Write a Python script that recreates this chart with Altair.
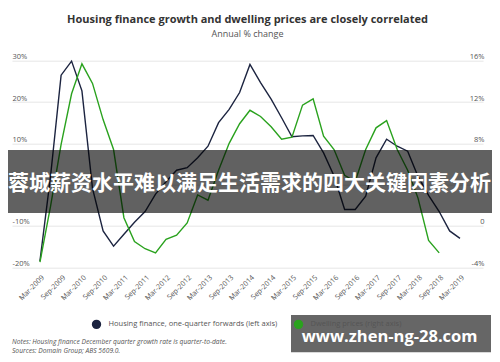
import altair as alt
import pandas as pd

# ---- data ----
quarters = [f"{y}-{m:02d}-15" for y in range(2009, 2020) for m in (3, 6, 9, 12)][:41]

housing_finance = [  # left axis, % (Mar-2009 .. Mar-2019)
    -18.5, 2.0, 26.5, 29.9, 22.7, -0.9, -11.2, -14.9, -12.0, -9.1,
    -6.5, -2.3, 0.7, 3.5, 4.1, 6.5, 9.3, 15.0, 18.2, 22.3,
    29.1, 24.7, 20.7, 16.2, 11.6, 11.8, 11.9, 7.7, 2.1, -6.0,
    -6.0, -2.8, 6.5, 11.0, 9.3, 8.1, 2.0, -2.6, -6.5, -11.2,
    -13.0,
]
dwelling_prices = [  # right axis, % (Mar-2009 .. Sep-2018)
    -3.5, 1.9, 7.9, 12.8, 15.7, 13.8, 10.3, 7.4, 0.8, -1.5,
    -2.2, -2.6, -1.3, -0.9, 0.3, 3.0, 2.5, 5.4, 8.0, 9.9,
    11.2, 10.6, 9.6, 8.4, 8.6, 11.7, 12.3, 8.7, 7.4, 4.9,
    4.3, 7.4, 9.5, 10.2, 7.4, 5.4, 2.7, -1.4, -2.6,
]
series_names = ["Housing finance, one-quarter forwards (left axis)", "Dwelling prices (right axis)"]
series_colors = ["#1c2440", "#2aa21e"]
left_ticks = [-20, -10, 0, 10, 20, 30]
right_ticks = [-4, 0, 4, 8, 12, 16]
tick_dates = [(y, m) for y in range(2009, 2020) for m in (3, 9)][:21]

title_text = "Housing finance growth and dwelling prices are closely correlated"
subtitle_text = "Annual % change"
notes = ["Notes: Housing finance December quarter growth rate is quarter-to-date.",
         "Sources: Domain Group; ABS 5609.0."]
banner_text = "蓉城薪资水平难以满足生活需求的四大关键因素分析"
watermark_text = "www.zhen-ng-28.com"

hf = pd.DataFrame({"date": quarters, "value": housing_finance, "series": series_names[0]})
dp = pd.DataFrame({"date": quarters[:len(dwelling_prices)], "value": dwelling_prices, "series": series_names[1]})

FONT = "Open Sans"
color_scale = alt.Scale(domain=series_names, range=series_colors)
legend = alt.Legend(
    title=None, orient="none", direction="horizontal", legendX=79.5, legendY=258.5,
    symbolType="circle", symbolSize=22, symbolStrokeWidth=4.7, symbolOpacity=1,
    labelFont=FONT, labelFontSize=7.5, labelColor="#555", labelOffset=7,
    columnPadding=9, padding=0, labelLimit=400,
)

x_enc = alt.X(
    "date:T", title=None,
    scale=alt.Scale(domain=[alt.DateTime(year=2008, month=7, date=15),
                            alt.DateTime(year=2019, month=10, date=1)]),
    axis=alt.Axis(values=[alt.DateTime(year=y, month=m, date=15) for y, m in tick_dates],
                  format="%b-%Y", labelAngle=-45, labelAlign="right", labelBaseline="top",
                  labelFont=FONT, labelFontSize=7.2, labelColor="#555", labelPadding=6,
                  ticks=False, tickSize=0, domain=False, grid=False, labelOverlap=False),
)

left = alt.Chart(hf).mark_line(strokeWidth=1.4).encode(
    x=x_enc,
    y=alt.Y("value:Q", title=None,
            scale=alt.Scale(domain=[-20, 30], nice=False, zero=False),
            axis=alt.Axis(orient="left", values=left_ticks, labelExpr="datum.value + '%'",
                          labelAlign="left", labelBaseline="bottom", labelPadding=0,
                          labelFont=FONT, labelFontSize=7.5, labelColor="#555",
                          ticks=False, tickSize=0, domain=False, grid=True,
                          gridColor="#e6e6e6", gridWidth=1)),
    color=alt.Color("series:N", scale=color_scale, legend=legend),
)

right = alt.Chart(dp).mark_line(strokeWidth=1.4).encode(
    x=x_enc,
    y=alt.Y("value:Q", title=None,
            scale=alt.Scale(domain=[-4, 16], nice=False, zero=False),
            axis=alt.Axis(orient="right", values=right_ticks,
                          labelExpr="datum.value == 0 ? '0' : datum.value + '%'",
                          labelAlign="right", labelBaseline="bottom", labelPadding=1,
                          labelFont=FONT, labelFontSize=7.5, labelColor="#555",
                          ticks=False, tickSize=0, domain=False, grid=False)),
    color=alt.Color("series:N", scale=color_scale, legend=legend),
)

lines = alt.layer(left, right).resolve_scale(y="independent")

notes_df = pd.DataFrame({"t": notes, "row": [0, 1]})
notes_layer = alt.Chart(notes_df).mark_text(
    font=FONT, fontSize=6.7, fontStyle="italic", color="#555", align="left", baseline="middle"
).encode(x=alt.value(0), y=alt.value(280.8), text="t:N").transform_filter("datum.row == 0")
notes_layer2 = alt.Chart(notes_df).mark_text(
    font=FONT, fontSize=6.7, fontStyle="italic", color="#555", align="left", baseline="middle"
).encode(x=alt.value(0), y=alt.value(289.8), text="t:N").transform_filter("datum.row == 1")

banner_df = pd.DataFrame({"t": [banner_text]})
banner_rect = alt.Chart(banner_df).mark_rect(color="black", opacity=0.62).encode(
    x=alt.value(-4), x2=alt.value(480), y=alt.value(89.3), y2=alt.value(152.3))
banner_label = alt.Chart(banner_df).mark_text(
    font="Noto Sans CJK SC", fontSize=21, fontWeight="bold", color="white",
    align="center", baseline="middle").encode(x=alt.value(237.5), y=alt.value(123.3), text="t:N")

wm_df = pd.DataFrame({"t": [watermark_text]})
wm_rect = alt.Chart(wm_df).mark_rect(color="black", opacity=0.6).encode(
    x=alt.value(279), x2=alt.value(479), y=alt.value(254.3), y2=alt.value(291.6))
wm_label = alt.Chart(wm_df).mark_text(
    font=FONT, fontSize=16.5, fontWeight="bold", color="white",
    align="left", baseline="alphabetic").encode(x=alt.value(289.7), y=alt.value(281.6), text="t:N")

chart = alt.layer(
    lines,
    alt.layer(notes_layer, notes_layer2, banner_rect, banner_label, wm_rect, wm_label),
).properties(
    width=471, height=206.6,
    title=alt.TitleParams(text=title_text, subtitle=subtitle_text, anchor="middle", frame="group",
                          font=FONT, fontSize=11, fontWeight="bold", color="#333",
                          subtitleFont=FONT, subtitleFontSize=9, subtitleColor="#555",
                          subtitlePadding=5, offset=14),
    padding={"left": 4, "top": 52.7, "right": 9, "bottom": 86.7},
    autosize=alt.AutoSizeParams(type="none"),
).configure_view(stroke=None)

chart.save("out.html", embed_options={"renderer": "svg", "actions": False})
